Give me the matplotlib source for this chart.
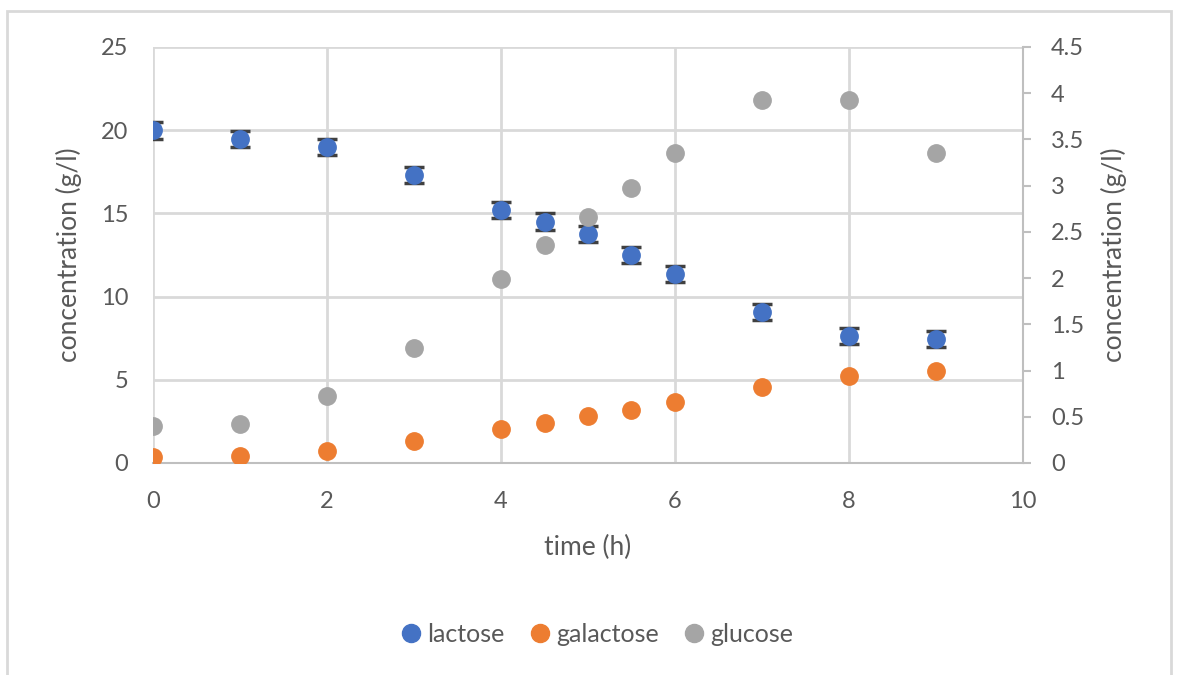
import matplotlib.pyplot as plt
from matplotlib.patches import Rectangle

plt.rcParams['font.family'] = ['Lato', 'DejaVu Sans']

time = [0, 1, 2, 3, 4, 4.5, 5, 5.5, 6, 7, 8, 9]
lactose = [20.0, 19.47, 19.0, 17.3, 15.2, 14.5, 13.76, 12.5, 11.36, 9.07, 7.63, 7.45]
lactose_err = [0.5, 0.5, 0.5, 0.5, 0.5, 0.5, 0.5, 0.5, 0.5, 0.5, 0.5, 0.5]
galactose = [0.36, 0.42, 0.72, 1.32, 2.04, 2.4, 2.82, 3.18, 3.67, 4.57, 5.23, 5.53]
glucose = [0.40, 0.42, 0.725, 1.245, 1.99, 2.36, 2.66, 2.97, 3.355, 3.93, 3.93, 3.355]

txt = '#595959'
grid = '#d9d9d9'

fig = plt.figure(figsize=(11.78, 6.75), dpi=100)
fig.patches.append(Rectangle((0.006, -0.01), 0.988, 0.994, transform=fig.transFigure,
                             fill=False, edgecolor='#d9d9d9', linewidth=2))
ax = fig.add_axes([0.1299, 0.3141, 0.7385, 0.6163])
ax2 = ax.twinx()

ax.errorbar(time, lactose, yerr=lactose_err, fmt='o', color='#4472c4', ms=12.5,
            ecolor='#404040', elinewidth=1.5, capsize=7, capthick=2.5, zorder=3, label='lactose')
ax.plot(time, galactose, 'o', color='#ed7d31', ms=12.5, zorder=3, label='galactose')
ax2.plot(time, glucose, 'o', color='#a5a5a5', ms=12.5, zorder=3, label='glucose')

ax.set_xlim(0, 10)
ax.set_ylim(0, 25)
ax2.set_ylim(0, 4.5)
ax.set_xticks(range(0, 11, 2))
ax.set_yticks(range(0, 26, 5))
ax2.set_yticks([i * 0.5 for i in range(10)])
ax2.set_yticklabels(['0', '0.5', '1', '1.5', '2', '2.5', '3', '3.5', '4', '4.5'])

ax.grid(True, color=grid, linewidth=2)
ax.set_axisbelow(True)
for a in (ax, ax2):
    for s in a.spines.values():
        s.set_visible(False)
ax2.spines['right'].set_visible(True)
ax2.spines['right'].set_color('#bfbfbf')
ax2.spines['right'].set_linewidth(1.5)
ax.spines['bottom'].set_visible(True)
ax.spines['bottom'].set_color('#bfbfbf')
ax.spines['bottom'].set_linewidth(1.5)

ax.tick_params(axis='both', length=0, labelsize=17, labelcolor=txt)
ax.tick_params(axis='y', pad=18)
ax.tick_params(axis='x', pad=20)
ax2.tick_params(axis='y', length=6, color='#bfbfbf', width=1.5, labelsize=17, labelcolor=txt, pad=14)

ax.set_xlabel('time (h)', fontsize=19, color=txt, labelpad=17)
ax.set_ylabel('concentration (g/l)', fontsize=19, color=txt, labelpad=13)
ax2.set_ylabel('concentration (g/l)', fontsize=19, color=txt, labelpad=12)

handles = [plt.Line2D([], [], marker='o', ls='', color=c, ms=13) for c in ['#4472c4', '#ed7d31', '#a5a5a5']]
fig.legend(handles, ['lactose', 'galactose', 'glucose'], loc='center', bbox_to_anchor=(0.507, 0.06),
           ncol=3, frameon=False, fontsize=18, labelcolor=txt, handlelength=0.8,
           handletextpad=0.25, columnspacing=1.0)

fig.savefig('out.png', dpi=100)
